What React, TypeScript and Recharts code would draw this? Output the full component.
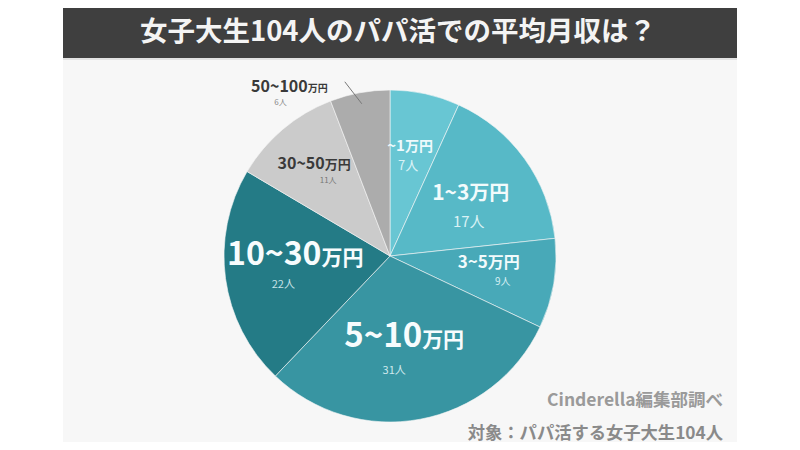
import { PieChart, Pie, Cell } from 'recharts';

const RANGES = ['~1', '1~3', '3~5', '5~10', '10~30', '30~50', '50~100'];
const UNIT = '万円';
const COUNTS = [7, 17, 9, 31, 22, 11, 6];
const COLORS = ['#68c6d3', '#57b9c7', '#48a9b8', '#3895a2', '#247b86', '#cbcbcb', '#acacac'];

const TITLE = '女子大生104人のパパ活での平均月収は？';
const SOURCE = 'Cinderella編集部調べ';
const SUBJECT = '対象：パパ活する女子大生104人';

const data = RANGES.map((range, i) => ({ name: range + UNIT, range, value: COUNTS[i] }));

// label look per slice: radius factor, angle tweak, offsets, font sizes, line gap
const LABEL_STYLE = [
  { r: 0.68, da: 2, dx: 0, dy: 6, num: 15, unit: 14, cnt: 13, gap: 19, cdx: -2, color: '#eefafc', cntColor: '#d8f2f6' },
  { r: 0.6, da: 0, dx: 0, dy: 2, num: 21, unit: 20, cnt: 15, gap: 27, cdx: -2, color: '#f2fbfc', cntColor: '#daf2f5' },
  { r: 0.6, da: 2, dx: 0, dy: -1, num: 17, unit: 16, cnt: 10, gap: 17, cdx: 14, color: '#f2fbfc', cntColor: '#d5eef2' },
  { r: 0.55, da: -11, dx: 15, dy: 0, num: 33, unit: 21, cnt: 11, gap: 27, cdx: -10, color: '#f7fcfd', cntColor: '#cfe9ed' },
  { r: 0.62, da: 1, dx: 7, dy: -7, num: 32, unit: 21, cnt: 11, gap: 23, cdx: -12, color: '#f7fcfd', cntColor: '#c8e3e7' },
  { r: 0.7, da: -2, dx: -4, dy: 4, num: 16, unit: 13, cnt: 8, gap: 14, cdx: 14, color: '#3a3a3a', cntColor: '#777' },
  { r: 1.16, da: 21, dx: 0, dy: 0, num: 16, unit: 10, cnt: 8, gap: 13, cdx: -9, color: '#3a3a3a', cntColor: '#888' },
];

const RADIAN = Math.PI / 180;

const renderLabel = (props: any) => {
  const { cx, cy, midAngle, outerRadius, index } = props;
  const s = LABEL_STYLE[index];
  const a = (midAngle + s.da) * RADIAN;
  const x = cx + outerRadius * s.r * Math.cos(-a) + s.dx;
  const y = cy + outerRadius * s.r * Math.sin(-a) + s.dy;
  const px = cx + outerRadius * Math.cos(-midAngle * RADIAN);
  const py = cy + outerRadius * Math.sin(-midAngle * RADIAN);
  return (
    <g key={`lbl-${index}`}>
      {index === 6 && (
        <line x1={px + 2} y1={py + 11} x2={px - 15} y2={py - 11} stroke="#777" strokeWidth={1} />
      )}
      <text x={x} y={y} textAnchor="middle" fill={s.color} fontWeight="bold">
        <tspan fontSize={s.num}>{data[index].range}</tspan>
        <tspan fontSize={s.unit}>{UNIT}</tspan>
      </text>
      <text x={x + s.cdx} y={y + s.gap} textAnchor="middle" fill={s.cntColor} fontSize={s.cnt}>
        {COUNTS[index]}人
      </text>
    </g>
  );
};

export default function App() {
  return (
    <div
      style={{
        position: 'relative',
        width: 800,
        height: 450,
        margin: -8,
        background: '#ffffff',
        fontFamily: '"Noto Sans CJK JP", "Noto Sans", sans-serif',
        overflow: 'hidden',
      }}
    >
      <div style={{ position: 'absolute', left: 63, top: 0, width: 674, height: 58, background: '#3f3f3f' }} />
      <div style={{ position: 'absolute', left: 63, top: 58, width: 674, height: 2, background: '#e2e2e2' }} />
      <div style={{ position: 'absolute', left: 63, top: 60, width: 674, height: 390, background: '#f7f7f7' }} />
      <div
        style={{
          position: 'absolute',
          left: 61,
          top: 0,
          width: 674,
          height: 58,
          lineHeight: '58px',
          textAlign: 'center',
          color: '#f4f4f4',
          fontSize: 27.5,
          fontWeight: 'bold',
          whiteSpace: 'nowrap',
        }}
      >
        {TITLE}
      </div>
      <div style={{ position: 'absolute', left: 0, top: 0 }}>
        <PieChart width={800} height={450} margin={{ top: 0, right: 0, bottom: 0, left: 0 }}>
          <Pie
            data={data}
            dataKey="value"
            nameKey="name"
            cx={390}
            cy={256}
            outerRadius={166}
            startAngle={90}
            endAngle={-270}
            stroke="#f7f7f7"
            strokeWidth={0.6}
            label={renderLabel}
            labelLine={false}
            isAnimationActive={false}
          >
            {data.map((entry, i) => (
              <Cell key={`cell-${i}`} fill={COLORS[i]} />
            ))}
          </Pie>
        </PieChart>
      </div>
      <div
        style={{
          position: 'absolute',
          right: 77,
          top: 386,
          color: '#9a9a9a',
          fontSize: 17.5,
          fontWeight: 'bold',
          whiteSpace: 'nowrap',
        }}
      >
        {SOURCE}
      </div>
      <div
        style={{
          position: 'absolute',
          right: 77,
          top: 419,
          color: '#8a8a8a',
          fontSize: 17.3,
          fontWeight: 'bold',
          whiteSpace: 'nowrap',
        }}
      >
        {SUBJECT}
      </div>
    </div>
  );
}
